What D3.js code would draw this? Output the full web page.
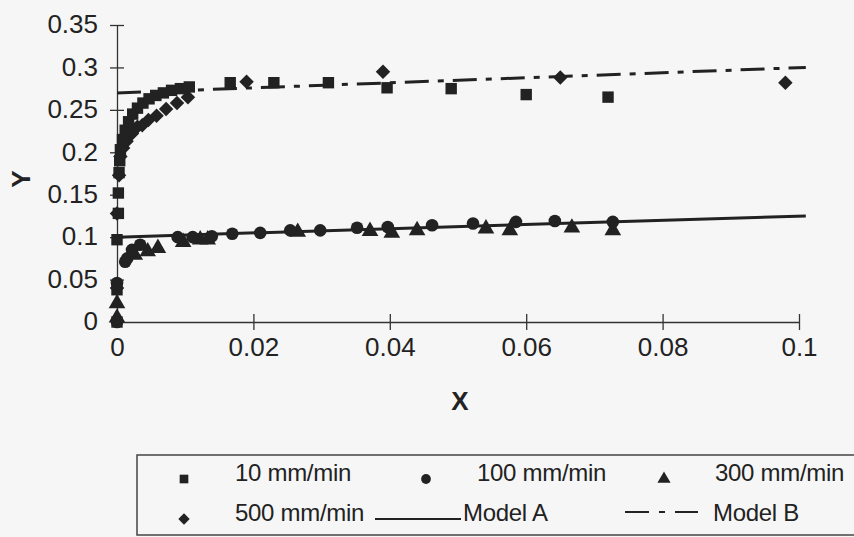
<!DOCTYPE html>
<html>
  <head>
    <meta charset="UTF-8">
    <title>shear rate chart</title>
    <script src="https://d3js.org/d3.v7.min.js"></script>
    <style>
      body { margin: 0; background: #f6f6f6; }
      svg { display: block; font-family: "Liberation Sans", Arial, sans-serif; }
    </style>
  </head>

  <body>
    <div class="chart"></div>

    <script type="application/javascript">
      // values: [x, y]
      const rate10 = [[0,0],[0,0.038],[0,0.097],[0.0002,0.128],[0.0002,0.152],[0.0003,0.176],
        [0.0004,0.19],[0.0005,0.203],[0.0008,0.215],[0.0012,0.226],[0.0017,0.236],[0.0023,0.245],
        [0.003,0.252],[0.0038,0.258],[0.0047,0.263],[0.0057,0.267],[0.0068,0.27],[0.008,0.273],
        [0.0093,0.275],[0.0106,0.277],[0.0166,0.282],[0.023,0.282],[0.031,0.282],[0.0396,0.276],
        [0.049,0.275],[0.06,0.268],[0.072,0.265]];
      const rate100 = [[0,0],[0,0.046],[0.0012,0.071],[0.0015,0.075],[0.0022,0.085],[0.0034,0.091],
        [0.0089,0.1],[0.0111,0.1],[0.0139,0.101],[0.0169,0.104],[0.021,0.105],[0.0254,0.108],
        [0.0298,0.108],[0.0352,0.111],[0.0397,0.112],[0.0462,0.114],[0.0522,0.116],[0.0585,0.118],
        [0.0642,0.119],[0.0727,0.118]];
      const rate300 = [[0,0.005],[0,0.022],[0.0026,0.079],[0.0045,0.083],[0.006,0.087],[0.0097,0.094],
        [0.0122,0.097],[0.0133,0.097],[0.0265,0.106],[0.0371,0.107],[0.0403,0.105],[0.044,0.108],
        [0.0541,0.11],[0.0576,0.108],[0.0667,0.111],[0.0727,0.108]];
      const rate500 = [[0,0.04],[0,0.128],[0.0003,0.173],[0.0005,0.195],[0.0009,0.205],[0.0014,0.213],
        [0.0022,0.222],[0.003,0.23],[0.0037,0.232],[0.0046,0.238],[0.0058,0.243],[0.0072,0.251],
        [0.0088,0.258],[0.0104,0.265],[0.019,0.283],[0.039,0.295],[0.065,0.288],[0.098,0.282]];
      const modelA = [[0,0.1],[0.101,0.125]];
      const modelB = [[0,0.27],[0.101,0.3]];

      const xTicks = [0, 0.02, 0.04, 0.06, 0.08, 0.1];
      const xTickLabels = ["0", "0.02", "0.04", "0.06", "0.08", "0.1"];
      const yTicks = [0, 0.05, 0.1, 0.15, 0.2, 0.25, 0.3, 0.35];
      const yTickLabels = ["0", "0.05", "0.1", "0.15", "0.2", "0.25", "0.3", "0.35"];

      const ink = "#222";
      const svg = d3.select(".chart").append("svg")
        .attr("width", 854).attr("height", 537);

      const x = d3.scaleLinear().domain([0, 0.1]).range([117, 799]);
      const y = d3.scaleLinear().domain([0, 0.35]).range([322, 25]);

      // axes
      const xAxis = d3.axisBottom(x).tickValues(xTicks).tickSize(0)
        .tickFormat((d, i) => xTickLabels[i]);
      const gx = svg.append("g").attr("transform", `translate(0, ${y(0)})`).call(xAxis);
      gx.select(".domain").attr("stroke", "#333").attr("stroke-width", 1.3);
      gx.selectAll(".tick text").attr("font-size", 26).attr("fill", ink)
        .attr("font-family", "Liberation Sans, Arial").attr("dy", "1.2em");
      gx.selectAll(".tick").filter(d => d > 0).append("line")
        .attr("y1", -8).attr("y2", 8).attr("stroke", "#333").attr("stroke-width", 1.3);

      const yAxis = d3.axisLeft(y).tickValues(yTicks).tickSize(0)
        .tickFormat((d, i) => yTickLabels[i]);
      const gy = svg.append("g").attr("transform", `translate(${x(0)}, 0)`).call(yAxis);
      gy.select(".domain").attr("stroke", "#333").attr("stroke-width", 1.3);
      gy.selectAll(".tick text").attr("font-size", 26).attr("fill", ink)
        .attr("font-family", "Liberation Sans, Arial").attr("x", -19).attr("dy", "0.3em");
      gy.selectAll(".tick").filter(d => d > 0).append("line")
        .attr("x1", -7).attr("x2", 7).attr("stroke", "#333").attr("stroke-width", 1.3);

      svg.append("text").attr("x", 460).attr("y", 410).attr("text-anchor", "middle")
        .attr("font-size", 26).attr("font-weight", "bold").attr("fill", ink).text("X");
      svg.append("text").attr("transform", "translate(30, 179) rotate(-90)")
        .attr("text-anchor", "middle").attr("font-size", 26).attr("font-weight", "bold")
        .attr("fill", ink).text("Y");

      // model lines
      const line = d3.line().x(d => x(d[0])).y(d => y(d[1]));
      svg.append("path").datum(modelA).attr("d", line)
        .attr("fill", "none").attr("stroke", ink).attr("stroke-width", 3);
      svg.append("path").datum(modelB).attr("d", line)
        .attr("fill", "none").attr("stroke", ink).attr("stroke-width", 3)
        .attr("stroke-dasharray", "24,9,6,9");

      // markers (diamond = square turned 45 degrees)
      const shapes = {
        square: {type: d3.symbolSquare, rot: 0},
        circle: {type: d3.symbolCircle, rot: 0},
        triangle: {type: d3.symbolTriangle, rot: 0},
        diamond: {type: d3.symbolSquare, rot: 45}
      };
      const plotSize = {square: 130, circle: 125, triangle: 120, diamond: 105};
      function plot(data, shape) {
        svg.append("g").selectAll("path").data(data).join("path")
          .attr("transform", d => `translate(${x(d[0])}, ${y(d[1])}) rotate(${shapes[shape].rot})`)
          .attr("d", d3.symbol().type(shapes[shape].type).size(plotSize[shape])).attr("fill", ink);
      }
      plot(rate300, "triangle");
      plot(rate100, "circle");
      plot(rate500, "diamond");
      plot(rate10, "square");

      // legend
      const legend = svg.append("g");
      legend.append("rect").attr("x", 137).attr("y", 455).attr("width", 740).attr("height", 80)
        .attr("fill", "none").attr("stroke", "#444").attr("stroke-width", 1.5);
      const items = [
        {label: "10 mm/min", shape: "square", mx: 184, row: 0},
        {label: "100 mm/min", shape: "circle", mx: 426, row: 0},
        {label: "300 mm/min", shape: "triangle", mx: 664, row: 0},
        {label: "500 mm/min", shape: "diamond", mx: 184, row: 1},
        {label: "Model A", dash: null, x1: 375, x2: 461, tx: 463, row: 1},
        {label: "Model B", dash: "24,10,6,10,24", x1: 625, x2: 698, tx: 713, row: 1}
      ];
      const rowY = [472, 512];
      items.forEach(it => {
        const cy = rowY[it.row];
        let tx = it.mx + 51;
        if (it.shape) {
          legend.append("path")
            .attr("transform", `translate(${it.mx}, ${cy + 7}) rotate(${shapes[it.shape].rot})`)
            .attr("d", d3.symbol().type(shapes[it.shape].type).size(it.shape === "diamond" ? 65 : 75))
            .attr("fill", ink);
        } else {
          const ly = it.dash ? cy : cy + 7;
          legend.append("line").attr("x1", it.x1).attr("x2", it.x2).attr("y1", ly).attr("y2", ly)
            .attr("stroke", ink).attr("stroke-width", 2).attr("stroke-dasharray", it.dash);
          tx = it.tx;
        }
        legend.append("text").attr("x", tx).attr("y", cy + 9).attr("font-size", 24)
          .attr("letter-spacing", "-0.3px").attr("fill", ink).text(it.label);
      });
    </script>
  </body>
</html>
